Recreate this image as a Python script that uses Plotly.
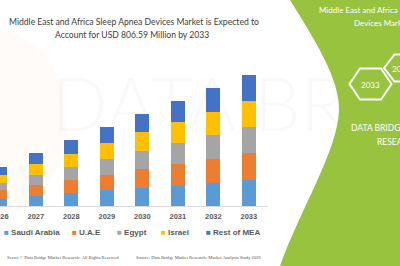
import plotly.graph_objects as go

# ---------------- data ----------------
years = [2026, 2027, 2028, 2029, 2030, 2031, 2032, 2033]
saudi_arabia = [45, 60, 78, 96, 111, 125, 143, 159.5]
uae = [51, 68, 82, 96, 117, 133, 147, 164.2]
egypt = [45, 63, 78, 96, 109, 127, 143, 159.8]
israel = [51, 66, 84, 98, 115, 131, 146, 159.6]
rest_of_mea = [45, 66, 82, 98, 115, 127, 147, 163.5]

series_names = ["Saudi Arabia", "U.A.E", "Egypt", "Israel", "Rest of MEA"]
series_values = [saudi_arabia, uae, egypt, israel, rest_of_mea]
series_colors = ["#5B9BD5", "#ED7D31", "#A5A5A5", "#FFC000", "#4472C4"]

title_line1 = "Middle East and Africa Sleep Apnea Devices Market is Expected to"
title_line2 = "Account for USD 806.59 Million by 2033"

# ---------------- geometry helpers (pixel -> paper) ----------------
W, H = 400, 266
BASE = 206  # bottom of plot area in px from top


def X(px):
    return px / W


def Y(py):
    return (BASE - py) / BASE


fig = go.Figure()

for name, vals, col in zip(series_names, series_values, series_colors):
    fig.add_trace(go.Bar(x=years, y=vals, name=name, marker_color=col,
                         marker_line_width=0, width=0.39, showlegend=False))

span = 268 / 35.5
x0 = years[0] - 0.01

shapes = []
# faint orange logo blob on the left
shapes.append(dict(type="path", xref="paper", yref="paper", layer="below",
                   path=f"M {X(0)},{Y(30)} C {X(60)},{Y(40)} {X(75)},{Y(110)} {X(60)},{Y(160)} "
                        f"C {X(45)},{Y(200)} {X(20)},{Y(215)} {X(0)},{Y(215)} Z",
                   fillcolor="rgba(250,200,160,0.08)", line_width=0))
# faint watermark text
shapes.append(dict(type="rect", xref="paper", yref="paper", layer="below",
                   x0=X(110), x1=X(460), y0=Y(140), y1=Y(62),
                   line_width=0, fillcolor="rgba(0,0,0,0)",
                   label=dict(text="DATA BRIDGE", textposition="middle center",
                              font=dict(size=74, color="rgba(0,0,0,0.025)",
                                        family="Lato", weight=300))))
# green right-hand panel
shapes.append(dict(type="path", xref="paper", yref="paper", layer="above",
                   path=f"M {X(290)},{Y(0)} C {X(315)},{Y(40)} {X(340)},{Y(80)} {X(339)},{Y(110)} "
                        f"C {X(338)},{Y(150)} {X(300)},{Y(210)} {X(280)},{Y(266)} "
                        f"L {X(400)},{Y(266)} L {X(400)},{Y(0)} Z",
                   fillcolor="#97C33F", line_width=0))


def hexagon(cx, cy, w, h):
    pts = [(cx - w / 2, cy), (cx - w / 4, cy - h / 2), (cx + w / 4, cy - h / 2),
           (cx + w / 2, cy), (cx + w / 4, cy + h / 2), (cx - w / 4, cy + h / 2)]
    p = "M " + " L ".join(f"{X(a)},{Y(b)}" for a, b in pts) + " Z"
    return dict(type="path", xref="paper", yref="paper", layer="above",
                path=p, line=dict(color="white", width=2), fillcolor="rgba(0,0,0,0)")


shapes.append(hexagon(370.5, 84, 42, 31))
shapes.append(hexagon(405, 68, 42, 27))

TF = "Lato"
TICKFONT = dict(size=7.5, color="#595959", family="Liberation Sans", weight="bold")
annotations = []
annotations.append(dict(xref="paper", yref="paper", x=X(134), y=Y(22),
                        text=title_line1, showarrow=False, xanchor="center", yanchor="middle",
                        font=dict(size=8.6, color="#3D3D3D", family=TF)))
annotations.append(dict(xref="paper", yref="paper", x=X(132), y=Y(35),
                        text=title_line2, showarrow=False, xanchor="center", yanchor="middle",
                        font=dict(size=8.6, color="#3D3D3D", family=TF)))

# first year label sits on the left edge and is cut in the reference
annotations.append(dict(xref="x", yref="paper", x=years[0], y=Y(216),
                        text=str(years[0]), showarrow=False, xanchor="center", yanchor="middle",
                        font=TICKFONT))

# legend (compact, as in the reference)
legend_x = [3, 71, 116, 160, 205]
for lx, name, col in zip(legend_x, series_names, series_colors):
    annotations.append(dict(xref="paper", yref="paper", x=X(lx - 1), y=Y(232),
                            text=f"<span style='color:{col}'>■</span> {name}",
                            showarrow=False, xanchor="left", yanchor="middle",
                            font=dict(size=8, color="#595959", family="Liberation Sans", weight="bold")))

# footer
annotations.append(dict(xref="paper", yref="paper", x=X(121), y=Y(257),
                        text="Secret © Data Bridge Market Research- All Rights Reserved",
                        showarrow=False, xanchor="right", yanchor="middle",
                        font=dict(size=4.6, color="#555555", family="Liberation Serif")))
annotations.append(dict(xref="paper", yref="paper", x=X(134), y=Y(257),
                        text="Source: Data Bridge Market Research: Market Analysis Study 2026",
                        showarrow=False, xanchor="left", yanchor="middle",
                        font=dict(size=4.6, color="#555555", family="Liberation Serif")))

# green panel text
annotations.append(dict(xref="paper", yref="paper", x=X(381), y=Y(10),
                        text="Middle East and Africa Sleep Apnea", showarrow=False,
                        xanchor="center", yanchor="middle",
                        font=dict(size=8, color="white", family=TF)))
annotations.append(dict(xref="paper", yref="paper", x=X(381), y=Y(23),
                        text="Devices Market", showarrow=False,
                        xanchor="center", yanchor="middle",
                        font=dict(size=8, color="white", family=TF)))
annotations.append(dict(xref="paper", yref="paper", x=X(370.5), y=Y(85),
                        text="2033", showarrow=False, xanchor="center", yanchor="middle",
                        font=dict(size=8, color="white", family=TF)))
annotations.append(dict(xref="paper", yref="paper", x=X(390), y=Y(69),
                        text="2026", showarrow=False, xanchor="left", yanchor="middle",
                        font=dict(size=8, color="white", family=TF)))
annotations.append(dict(xref="paper", yref="paper", x=X(349), y=Y(128),
                        text="DATA BRIDGE MARKET", showarrow=False, xanchor="left", yanchor="middle",
                        font=dict(size=8.5, color="white", family=TF)))
annotations.append(dict(xref="paper", yref="paper", x=X(375), y=Y(142),
                        text="RESEARCH", showarrow=False, xanchor="left", yanchor="middle",
                        font=dict(size=8.5, color="white", family=TF)))

fig.update_layout(
    barmode="stack",
    width=W, height=H,
    margin=dict(l=0, r=0, t=0, b=H - BASE, pad=0),
    paper_bgcolor="white", plot_bgcolor="rgba(0,0,0,0)",
    showlegend=False,
    shapes=shapes,
    annotations=annotations,
    xaxis=dict(domain=[0, 0.67], range=[x0, x0 + span],
               tickmode="array", tickvals=years,
               ticktext=[""] + [str(y) for y in years[1:]],
               showgrid=False, zeroline=False, showline=True, linecolor="#D9D9D9", linewidth=1,
               ticks="", ticklabelstandoff=3,
               tickfont=TICKFONT),
    yaxis=dict(range=[0, 1265], visible=False, showgrid=False, zeroline=False),
)

fig.write_html("out.html")
